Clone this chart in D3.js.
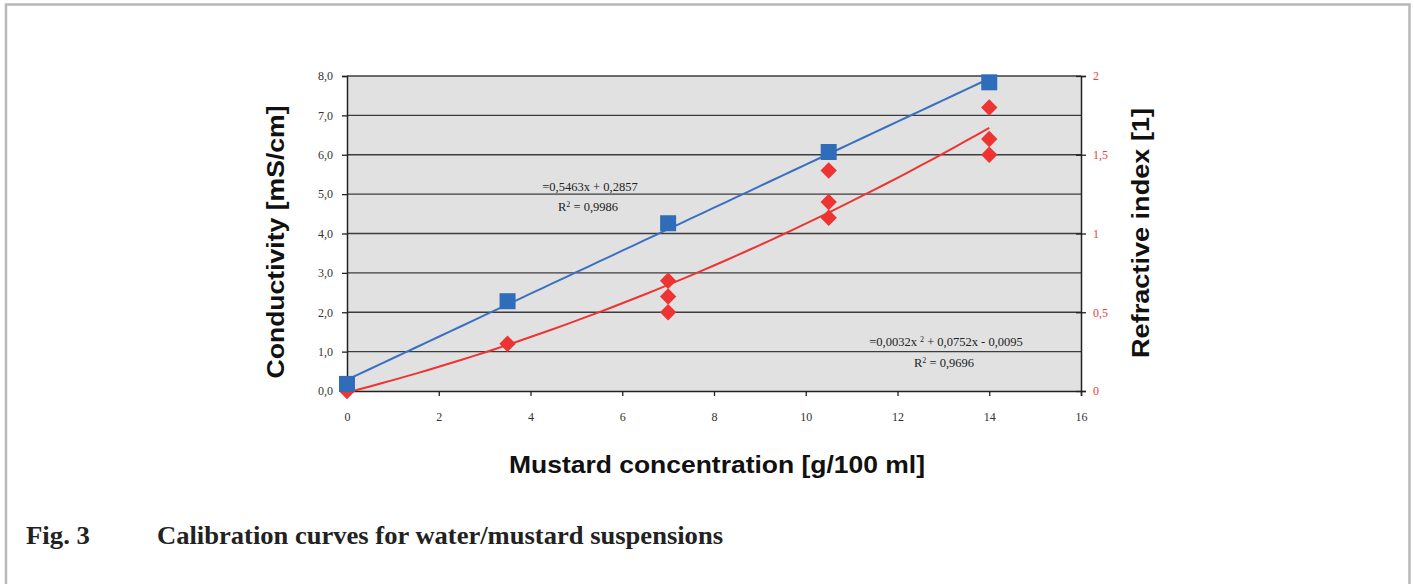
<!DOCTYPE html>
<html>
<head>
<meta charset="utf-8">
<script src="https://cdn.jsdelivr.net/npm/d3@7"></script>
<style>
  body { margin: 0; background: #fff; }
  svg { display: block; }
</style>
</head>
<body>
<script>
// DATA
var concentration = [0, 3.5, 7, 10.5, 14];
var conductivity = [0.18, 2.28, 4.26, 6.07, 7.84];
var riConc = [0, 3.5, 7, 7, 7, 10.5, 10.5, 10.5, 14, 14, 14];
var refractive = [0, 0.3, 0.5, 0.6, 0.7, 1.1, 1.2, 1.4, 1.5, 1.6, 1.8];
// trendline coefficients as printed on the chart
var linCoef = [0.5463, 0.2857];
var polyCoef = [0.0032, 0.0752, -0.0095];
var xTicks = [0, 2, 4, 6, 8, 10, 12, 14, 16];
var leftTicks = [0, 1, 2, 3, 4, 5, 6, 7, 8];
var leftLabels = ['0,0', '1,0', '2,0', '3,0', '4,0', '5,0', '6,0', '7,0', '8,0'];
var rightTicks = [0, 0.5, 1, 1.5, 2];
var rightLabels = ['0', '0,5', '1', '1,5', '2'];

var W = 1414, H = 584;
var svg = d3.select('body').append('svg').attr('width', W).attr('height', H);

// frame
svg.append('rect')
   .attr('x', 6).attr('y', 4.5)
   .attr('width', 1403.5).attr('height', 700)
   .style('fill', 'none')
   .style('stroke', '#b8b8b8')
   .style('stroke-width', 2.5);

var L = 347, R = 1081, T = 76, B = 391;
var x = d3.scaleLinear().domain([0, 16]).range([L, R]);
var yL = d3.scaleLinear().domain([0, 8]).range([B, T]);
var yR = d3.scaleLinear().domain([0, 2]).range([B, T]);

// plot background
svg.append('rect')
   .attr('x', L).attr('y', T)
   .attr('width', R - L).attr('height', B - T)
   .style('fill', '#e1e1e1');

// gridlines
svg.append('g').selectAll('line')
   .data(leftTicks.slice(1))
   .join('line')
   .attr('x1', L).attr('x2', R)
   .attr('y1', d => yL(d)).attr('y2', d => yL(d))
   .style('stroke', '#3c3c3c')
   .style('stroke-width', 1.4);

// left axis
var axL = svg.append('g').attr('transform', 'translate(' + L + ',0)')
   .call(d3.axisLeft(yL).tickValues(leftTicks).tickSize(5).tickPadding(9)
          .tickFormat((d, i) => leftLabels[i]));
axL.select('.domain').style('stroke', '#222').style('stroke-width', 1.5);
axL.selectAll('.tick line').style('stroke', '#222').style('stroke-width', 1.3);
axL.selectAll('text').style('font-family', '"Liberation Serif", serif')
   .style('font-size', '12px').style('fill', '#333');

// right axis
var axR = svg.append('g').attr('transform', 'translate(' + R + ',0)')
   .call(d3.axisRight(yR).tickValues(rightTicks).tickSize(5).tickPadding(7)
          .tickFormat((d, i) => rightLabels[i]));
axR.select('.domain').style('stroke', '#222').style('stroke-width', 1.5);
axR.selectAll('.tick line').attr('x1', -5).style('stroke', '#222').style('stroke-width', 1.3);
axR.selectAll('text').style('font-family', '"Liberation Serif", serif')
   .style('font-size', '12px').style('fill', '#ee3b3b');

// bottom axis
var axB = svg.append('g').attr('transform', 'translate(0,' + B + ')')
   .call(d3.axisBottom(x).tickValues(xTicks).tickSize(5).tickPadding(16));
axB.select('.domain').style('stroke', '#222').style('stroke-width', 1.5);
axB.selectAll('.tick line').style('stroke', '#222').style('stroke-width', 1.3);
axB.selectAll('text').style('font-family', '"Liberation Serif", serif')
   .style('font-size', '12px').style('fill', '#333');

// trendlines
var xs = d3.range(0, 14.01, 0.25);
var linLine = d3.line().x(d => x(d)).y(d => yL(linCoef[0] * d + linCoef[1]));
var polyLine = d3.line().x(d => x(d))
   .y(d => yR(polyCoef[0] * d * d + polyCoef[1] * d + polyCoef[2]));

svg.append('path').datum(xs).attr('d', polyLine)
   .style('fill', 'none').style('stroke', '#ee3333').style('stroke-width', 2);
svg.append('path').datum(xs).attr('d', linLine)
   .style('fill', 'none').style('stroke', '#3a6fc2').style('stroke-width', 2);

// red diamonds
svg.append('g').selectAll('path')
   .data(refractive)
   .join('path')
   .attr('transform', (d, i) => 'translate(' + x(riConc[i]) + ',' + yR(d) + ') rotate(45)')
   .attr('d', 'M-5.8,-5.8H5.8V5.8H-5.8Z')
   .style('fill', '#ee3333');

// blue squares
svg.append('g').selectAll('rect')
   .data(conductivity)
   .join('rect')
   .attr('x', (d, i) => x(concentration[i]) - 8)
   .attr('y', d => yL(d) - 8)
   .attr('width', 16).attr('height', 16)
   .style('fill', '#2f6cb9');

// equations
function eqText(cx, cy, parts) {
    var t = svg.append('text')
       .attr('x', cx).attr('y', cy)
       .attr('text-anchor', 'middle')
       .style('font-family', '"Liberation Serif", serif')
       .style('font-size', '12.5px')
       .style('fill', '#222');
    parts.forEach(p => {
        var s = t.append('tspan').text(p[0]);
        if (p[1]) s.attr('baseline-shift', 'super').style('font-size', '8px');
    });
}
eqText(590, 191, [['=0,5463x + 0,2857']]);
eqText(588, 211, [['R'], ['2', 1], [' = 0,9986']]);
eqText(946, 346, [['=0,0032x  '], ['2', 1], [' + 0,0752x - 0,0095']]);
eqText(944, 367, [['R'], ['2', 1], [' = 0,9696']]);

// axis titles
function title(tx, ty, rot, len, str) {
    svg.append('text')
       .attr('transform', 'translate(' + tx + ',' + ty + ') rotate(' + rot + ')')
       .attr('text-anchor', 'middle')
       .attr('textLength', len).attr('lengthAdjust', 'spacingAndGlyphs')
       .style('font-family', '"Liberation Sans", Arial, sans-serif')
       .style('font-weight', 'bold').style('font-size', '24px')
       .style('fill', '#111')
       .text(str);
}
title(284, 242, -90, 273, 'Conductivity [mS/cm]');
title(1149, 233, -90, 250, 'Refractive index [1]');
title(717, 473, 0, 416, 'Mustard concentration [g/100 ml]');

// caption
svg.append('text')
   .attr('x', 26).attr('y', 544)
   .attr('textLength', 64).attr('lengthAdjust', 'spacingAndGlyphs')
   .style('font-family', '"Liberation Serif", serif')
   .style('font-weight', 'bold').style('font-size', '26px')
   .style('fill', '#222')
   .text('Fig. 3');
svg.append('text')
   .attr('x', 157).attr('y', 544)
   .attr('textLength', 566).attr('lengthAdjust', 'spacingAndGlyphs')
   .style('font-family', '"Liberation Serif", serif')
   .style('font-weight', 'bold').style('font-size', '26px')
   .style('fill', '#222')
   .text('Calibration curves for water/mustard suspensions');
</script>
</body>
</html>
